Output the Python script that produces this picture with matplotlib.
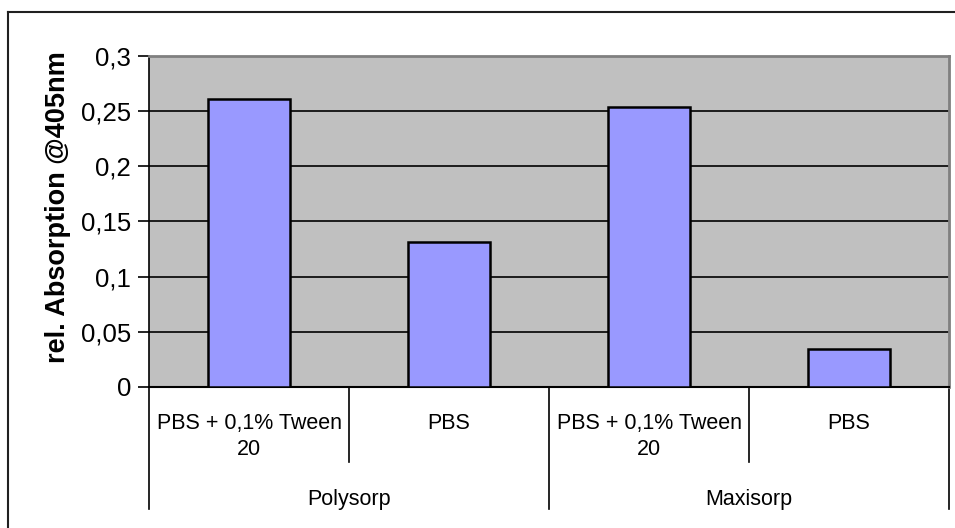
import numpy as np
import matplotlib.pyplot as plt
from matplotlib.lines import Line2D

plt.rcParams['font.family'] = ['Liberation Sans', 'DejaVu Sans']

categories = ['PBS + 0,1% Tween\n20', 'PBS', 'PBS + 0,1% Tween\n20', 'PBS']
groups = ['Polysorp', 'Maxisorp']
values = [0.261, 0.131, 0.254, 0.034]
yticks = [0, 0.05, 0.1, 0.15, 0.2, 0.25, 0.3]
ytick_labels = ['0', '0,05', '0,1', '0,15', '0,2', '0,25', '0,3']

fig = plt.figure(figsize=(9.55, 5.28), dpi=100)
ax = fig.add_axes([149 / 955, 141 / 528, 800 / 955, 331 / 528])
ax.set_facecolor('#C0C0C0')

x = np.arange(len(categories))
ax.bar(x, values, width=0.41, color='#9999FF', edgecolor='black', linewidth=1.8, zorder=3)

ax.set_xlim(-0.5, len(categories) - 0.5)
ax.set_ylim(0, 0.3)
ax.set_yticks(yticks)
ax.set_yticklabels(ytick_labels, fontsize=18.5)
ax.yaxis.grid(True, color='black', linewidth=1.2, zorder=1)
ax.set_axisbelow(True)
ax.tick_params(axis='y', direction='out', length=8, width=1.2, pad=5)
ax.set_xticks([])

for s in ['top', 'right']:
    ax.spines[s].set_color('#808080')
    ax.spines[s].set_linewidth(2)
ax.spines['left'].set_linewidth(1.2)
ax.spines['bottom'].set_linewidth(1.5)

ax.set_ylabel('rel. Absorption @405nm', fontsize=19.5, fontweight='bold')
ax.yaxis.set_label_coords(-0.097, 0.544)

trans = ax.get_xaxis_transform()
for i, lab in enumerate(categories):
    ax.text(x[i], -0.08, lab, transform=trans, ha='center', va='top',
            fontsize=15.5, linespacing=1.3)

n_per = len(categories) // len(groups)
for g, name in enumerate(groups):
    ax.text(g * n_per + (n_per - 1) / 2, -0.34, name, transform=trans,
            ha='center', va='center', fontsize=15.5)

# divider lines below the axis
for b in np.arange(-0.5, len(categories), 1.0):
    long_line = abs((b + 0.5) % n_per) < 1e-9
    y_end = -0.3686 if long_line else -0.2266
    ax.add_line(Line2D([b, b], [0, y_end], transform=trans, color='black',
                       linewidth=1.2, clip_on=False))

# outer chart border (top and left visible)
fig.add_artist(Line2D([8 / 955, 8 / 955], [0, 1 - 12 / 528], color='#202020', linewidth=1.5))
fig.add_artist(Line2D([8 / 955, 1], [1 - 12 / 528, 1 - 12 / 528], color='#202020', linewidth=1.5))

fig.savefig('out.png', dpi=100)
plt.close(fig)
